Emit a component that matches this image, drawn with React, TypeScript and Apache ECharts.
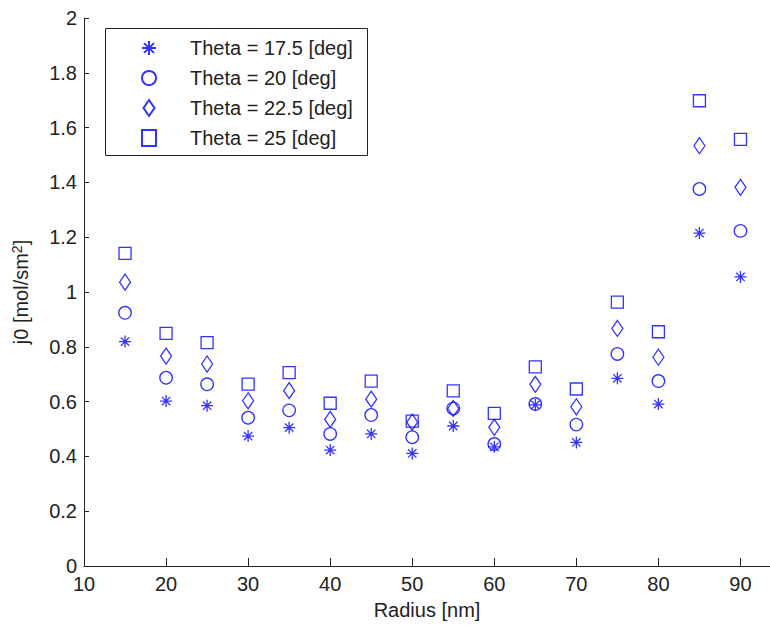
import React, { useEffect, useRef } from "react";
import * as echarts from "echarts";

const radius = [15, 20, 25, 30, 35, 40, 45, 50, 55, 60, 65, 70, 75, 80, 85, 90];
const theta175 = [0.819, 0.602, 0.585, 0.474, 0.505, 0.423, 0.482, 0.411, 0.511, 0.435, 0.588, 0.451, 0.685, 0.591, 1.215, 1.055];
const theta20 = [0.924, 0.687, 0.663, 0.541, 0.568, 0.482, 0.551, 0.470, 0.575, 0.445, 0.591, 0.516, 0.774, 0.675, 1.376, 1.223];
const theta225 = [1.036, 0.766, 0.737, 0.603, 0.640, 0.535, 0.609, 0.525, 0.575, 0.506, 0.663, 0.581, 0.867, 0.762, 1.534, 1.382];
const theta25 = [1.141, 0.849, 0.815, 0.664, 0.706, 0.594, 0.675, 0.529, 0.639, 0.557, 0.727, 0.646, 0.963, 0.855, 1.698, 1.557];
const seriesNames = [
  "Theta = 17.5 [deg]",
  "Theta = 20 [deg]",
  "Theta = 22.5 [deg]",
  "Theta = 25 [deg]",
];

const BLUE = "#0000ff";
const FONT = "'Liberation Sans', Arial, sans-serif";
const FS = 20;
const STAR = "path://M0,-10L0,10M-10,0L10,0M-7,-7L7,7M-7,7L7,-7";
const DIAMOND = "path://M0,-8L5.5,0L0,8L-5.5,0Z";

export default function App() {
  const ref = useRef<HTMLDivElement>(null);
  useEffect(() => {
    if (!ref.current) return;
    const chart = echarts.init(ref.current, null, { renderer: "svg" });
    const mk = (vals: number[]) => radius.map((r, i) => [r, vals[i]]);
    const itemStyle = { color: "rgba(0,0,0,0)", borderColor: BLUE, borderWidth: 1.3 };
    chart.setOption({
      animation: false,
      textStyle: { fontFamily: FONT },
      grid: { left: 84, top: 18, right: 0, bottom: 60, containLabel: false },
      xAxis: {
        type: "value",
        min: 10,
        max: 93.6,
        interval: 10,
        name: "Radius [nm]",
        nameLocation: "middle",
        nameGap: 34,
        nameTextStyle: { fontSize: FS, color: "#222", fontFamily: FONT },
        axisLine: { lineStyle: { color: "#222", width: 1 } },
        axisTick: { inside: true, length: 8, lineStyle: { color: "#222" } },
        axisLabel: {
          fontSize: FS,
          color: "#222",
          margin: 8,
          showMaxLabel: false,
          formatter: (v: number) => (Math.abs(v % 10) < 1e-9 ? String(v) : ""),
        },
        splitLine: { show: false },
      },
      yAxis: {
        type: "value",
        min: 0,
        max: 2,
        interval: 0.2,
        name: "j0 [mol/sm{sup|2}]",
        nameLocation: "middle",
        nameGap: 52,
        nameTextStyle: {
          fontSize: FS,
          color: "#222",
          fontFamily: FONT,
          rich: { sup: { fontSize: 14, color: "#222", verticalAlign: "top", padding: [0, 0, 8, 0], fontFamily: FONT } },
        },
        axisLine: { show: true, lineStyle: { color: "#222", width: 1 } },
        axisTick: { show: true, inside: true, length: 5, lineStyle: { color: "#222" } },
        axisLabel: { fontSize: FS, color: "#222", margin: 7 },
        splitLine: { show: false },
      },
      legend: {
        orient: "vertical",
        left: 141,
        top: 38,
        itemWidth: 14,
        itemHeight: 16,
        itemGap: 10,
        padding: 0,
        textStyle: { fontSize: FS, color: "#222", fontFamily: FONT, lineHeight: 20, padding: [0, 0, 0, 29] },
        data: [
          { name: seriesNames[0], icon: STAR },
          { name: seriesNames[1], icon: "circle" },
          { name: seriesNames[2], icon: DIAMOND },
          { name: seriesNames[3], icon: "rect" },
        ],
      },
      graphic: [
        {
          type: "rect",
          shape: { x: 105.5, y: 28.5, width: 262, height: 127 },
          style: { fill: "#fff", stroke: "#222", lineWidth: 1 },
          z: 1,
          zlevel: 0,
        },
      ],
      series: [
        { name: seriesNames[0], type: "scatter", data: mk(theta175), symbol: STAR, symbolSize: 12, itemStyle, z: 3 },
        { name: seriesNames[1], type: "scatter", data: mk(theta20), symbol: "circle", symbolSize: 12.5, itemStyle, z: 3 },
        { name: seriesNames[2], type: "scatter", data: mk(theta225), symbol: DIAMOND, symbolSize: [11, 16], itemStyle, z: 3 },
        { name: seriesNames[3], type: "scatter", data: mk(theta25), symbol: "rect", symbolSize: 12, itemStyle, z: 3 },
      ],
    });
    return () => chart.dispose();
  }, []);
  return (
    <div
      ref={ref}
      style={{ position: "fixed", left: 0, top: 0, width: 770, height: 626, background: "#fff" }}
    />
  );
}
